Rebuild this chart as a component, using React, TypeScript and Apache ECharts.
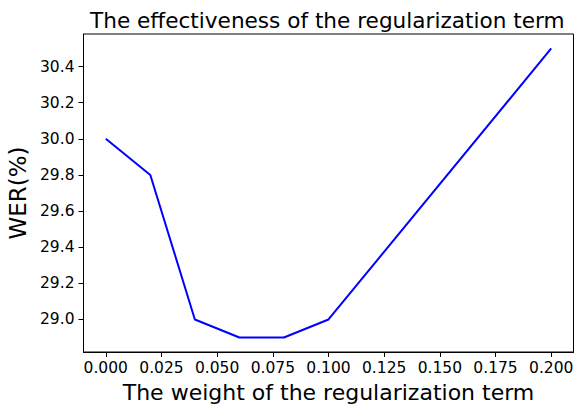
import React, { useEffect, useRef } from "react";
import * as echarts from "echarts";

const weights = [0, 0.02, 0.04, 0.06, 0.08, 0.1, 0.2];
const wer = [30.0, 29.8, 29.0, 28.9, 28.9, 29.0, 30.5];
const xTicks = [0, 0.025, 0.05, 0.075, 0.1, 0.125, 0.15, 0.175, 0.2];
const yTicks = [29.0, 29.2, 29.4, 29.6, 29.8, 30.0, 30.2, 30.4];

const FONT = "DejaVu Sans";

export default function App() {
  const ref = useRef<HTMLDivElement>(null);
  useEffect(() => {
    if (!ref.current) return;
    const chart = echarts.init(ref.current, undefined, { renderer: "svg" });
    chart.setOption({
      animation: false,
      backgroundColor: "#ffffff",
      title: {
        text: "The effectiveness of the regularization term",
        left: 90,
        top: 9,
        padding: 0,
        textAlign: "left",
        textStyle: { fontFamily: FONT, fontSize: 21.6, fontWeight: "normal", color: "#000" },
      },
      grid: {
        left: 83.5,
        right: 1.5,
        top: 34,
        bottom: 52,
        show: true,
        borderColor: "#000",
        borderWidth: 1,
        containLabel: false,
        outerBoundsMode: "none",
      },
      xAxis: {
        type: "value",
        min: -0.01,
        max: 0.21,
        name: "The weight of the regularization term",
        nameLocation: "middle",
        nameGap: 29,
        nameTextStyle: { fontFamily: FONT, fontSize: 22, color: "#000" },
        splitLine: { show: false },
        axisLine: { show: true, onZero: false, lineStyle: { color: "#000", width: 1 } },
        axisTick: {
          show: true,
          length: 5,
          inside: false,
          customValues: xTicks,
          lineStyle: { color: "#000", width: 1 },
        },
        axisLabel: {
          customValues: xTicks,
          formatter: (v: number) => v.toFixed(3),
          fontFamily: FONT,
          fontSize: 15.5,
          color: "#000",
          margin: 8,
        },
      },
      yAxis: {
        type: "value",
        min: 28.82,
        max: 30.58,
        name: "WER(%)",
        nameLocation: "middle",
        nameGap: 51,
        nameRotate: 90,
        nameTextStyle: { fontFamily: FONT, fontSize: 23, color: "#000" },
        splitLine: { show: false },
        axisLine: { show: true, onZero: false, lineStyle: { color: "#000", width: 1 } },
        axisTick: {
          show: true,
          length: 5,
          inside: false,
          customValues: yTicks,
          lineStyle: { color: "#000", width: 1 },
        },
        axisLabel: {
          customValues: yTicks,
          formatter: (v: number) => v.toFixed(1),
          fontFamily: FONT,
          fontSize: 15.5,
          color: "#000",
          margin: 9,
        },
      },
      series: [
        {
          type: "line",
          data: weights.map((w, i) => [w, wer[i]]),
          showSymbol: false,
          symbol: "none",
          lineStyle: { color: "#0000ff", width: 2 },
        },
      ],
    });
    return () => chart.dispose();
  }, []);
  return (
    <div
      ref={ref}
      style={{ position: "absolute", left: 0, top: 0, width: 575, height: 404 }}
    />
  );
}
